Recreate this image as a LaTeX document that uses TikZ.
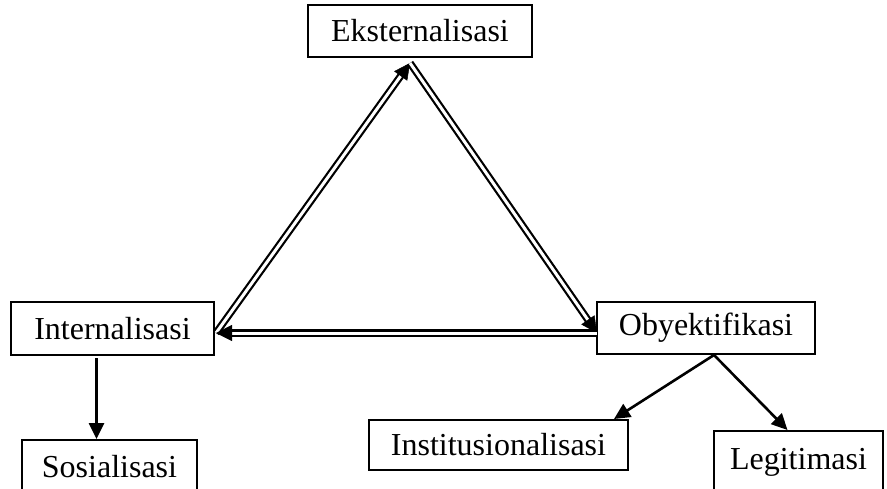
\documentclass[tikz,border=0pt]{standalone}
\usepackage{fontspec}
\setmainfont{Liberation Serif}
\usetikzlibrary{arrows.meta,calc}
\begin{document}
\begin{tikzpicture}[x=1pt,y=-1pt,
  box/.style={draw,line width=2pt,inner sep=0pt,font=\fontsize{32}{36}\selectfont},
  arr/.style={line width=2.6pt,-{Triangle[length=16pt,width=15pt]}},
  dbl/.style={line width=2.2pt,double,double distance=3pt,shorten >=14pt},
  tip/.style={line width=0.5pt,-{Triangle[length=16pt,width=16pt]}}]
\useasboundingbox (0,0) rectangle (887,488);
\node[box,minimum width=224pt,minimum height=52pt] (ext) at (420,31) {Eksternalisasi};
\node[box,minimum width=203pt,minimum height=53pt] (int) at (112.5,328.5) {Internalisasi};
\node[box,minimum width=218pt,minimum height=52pt] (oby) at (706,328) {Obyektifikasi};
\node[box,minimum width=175pt,minimum height=54pt] (sos) at (109.5,467) {Sosialisasi};
\node[box,minimum width=259pt,minimum height=50pt] (ins) at (498.5,445) {Institusionalisasi};
\node[box,minimum width=169pt,minimum height=62pt] (leg) at (798.5,462) {Legitimasi};
% triangle corner points
\coordinate (top) at ($(ext.south)+(-10,5)$);
\coordinate (lft) at ($(int.east)+(1,4.5)$);
\coordinate (rgt) at ($(oby.west)+(1,5)$);
% cycle of double arrows
\draw[dbl] (lft) -- (top);
\draw[tip] ($(top)!2pt!(lft)$) -- (top);
\draw[dbl] (top) -- (rgt);
\draw[tip] ($(rgt)!2pt!(top)$) -- (rgt);
\draw[dbl] (rgt) -- (lft);
\draw[tip] ($(lft)!2pt!(rgt)$) -- (lft);
% single arrows
\coordinate (is) at ($(int.south)+(-16,2)$);
\draw[arr] (is) -- (is |- sos.north);
\coordinate (ob) at ($(oby.south)+(8,0)$);
\draw[arr] (ob) -- ($(ins.north east)+(-15,0)$);
\draw[arr] (ob) -- ($(leg.north)+(-11,0)$);
\end{tikzpicture}
\end{document}
